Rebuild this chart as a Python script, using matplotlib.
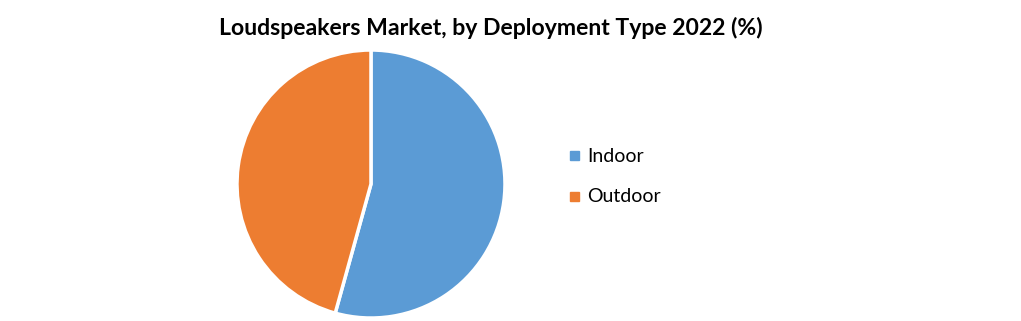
import matplotlib
matplotlib.use('Agg')
import matplotlib.pyplot as plt

labels = ['Indoor', 'Outdoor']
shares = [54.3, 45.7]
colors = ['#5B9BD5', '#ED7D31']

plt.rcParams['font.family'] = ['Lato', 'DejaVu Sans']

fig = plt.figure(figsize=(10.21, 3.21), dpi=100)
ax = fig.add_axes([0.2321, 0.0093, 0.2625, 0.8349])
ax.pie(shares, colors=colors, startangle=90, counterclock=False, radius=1,
       wedgeprops=dict(edgecolor='white', linewidth=2.5))
ax.set_xlim(-1, 1)
ax.set_ylim(-1, 1)
ax.set_aspect('equal')

fig.text(0.481, 0.912, 'Loudspeakers Market, by Deployment Type 2022 (%)',
         ha='center', va='center', fontsize=16.6, fontweight='bold')

# legend by hand
for i, (lab, c) in enumerate(zip(labels, colors)):
    y = 1 - (156 + 41 * i) / 321
    fig.patches.append(plt.Rectangle((570 / 1021, y - 4 / 321), 9 / 1021, 9 / 321,
                                     transform=fig.transFigure, color=c))
    fig.text(587 / 1021, y, lab, ha='left', va='center', fontsize=14)

fig.savefig('out.png', dpi=100)
